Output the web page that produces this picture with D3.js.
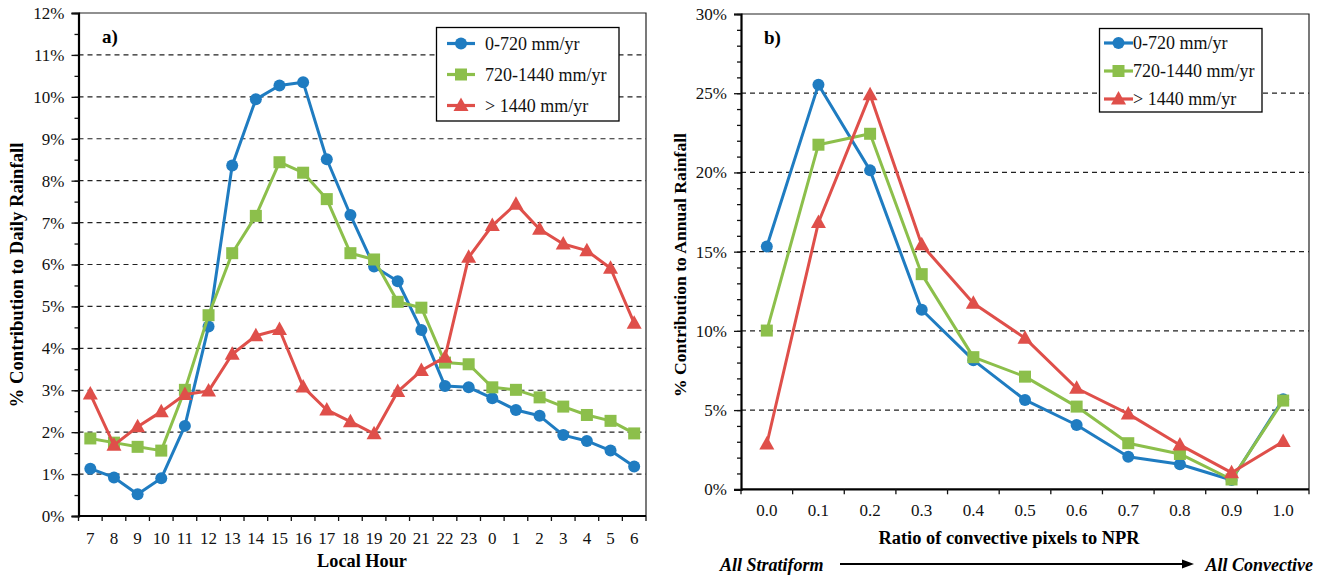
<!DOCTYPE html>
<html>
<head>
<meta charset="utf-8">
<script src="https://cdn.jsdelivr.net/npm/d3@7"></script>
<style>
  html, body { margin: 0; padding: 0; background: #fff; }
</style>
</head>
<body>
<svg id="chart" width="1323" height="576" font-family="'Liberation Serif', 'Times New Roman', Times, 'DejaVu Serif', serif"></svg>
<script>
// Panel a) diurnal cycle of rainfall contribution by annual rainfall class
const hours = ["7","8","9","10","11","12","13","14","15","16","17","18","19","20","21","22","23","0","1","2","3","4","5","6"];
const dailyLow  = [1.13,0.92,0.52,0.90,2.15,4.52,8.36,9.94,10.27,10.35,8.51,7.18,5.95,5.60,4.44,3.10,3.07,2.81,2.53,2.39,1.93,1.79,1.56,1.18];
const dailyMid  = [1.85,1.75,1.65,1.56,3.01,4.79,6.27,7.16,8.44,8.19,7.56,6.27,6.12,5.11,4.97,3.66,3.62,3.07,3.01,2.83,2.61,2.41,2.27,1.97];
const dailyHigh = [2.91,1.69,2.13,2.49,2.90,2.98,3.86,4.30,4.45,3.08,2.53,2.25,1.96,2.97,3.47,3.79,6.17,6.93,7.44,6.84,6.49,6.33,5.91,4.60];
const dailyTicks = [0,1,2,3,4,5,6,7,8,9,10,11,12];

// Panel b) contribution to annual rainfall by convective ratio
const ratios = ["0.0","0.1","0.2","0.3","0.4","0.5","0.6","0.7","0.8","0.9","1.0"];
const annualLow  = [15.32,25.54,20.13,11.33,8.15,5.64,4.06,2.06,1.58,0.59,5.69];
const annualMid  = [10.02,21.75,22.44,13.58,8.34,7.11,5.22,2.91,2.23,0.62,5.60];
const annualHigh = [2.86,16.84,24.91,15.43,11.75,9.54,6.38,4.76,2.80,1.05,3.01];
const annualTicks = [0,5,10,15,20,25,30];

const seriesNames = ["0-720 mm/yr","720-1440 mm/yr","> 1440 mm/yr"];
const colors = ["#1f7cc1","#8cbf4b","#df4f4a"];
const shapes = ["circle","square","triangle"];

const FONT = "'Liberation Serif', 'Times New Roman', Times, 'DejaVu Serif', serif";
const svg = d3.select("#chart");

function marker(g, shape, color, x, y) {
  if (shape === "circle") {
    g.append("circle").attr("cx", x).attr("cy", y).attr("r", 6).attr("fill", color);
  } else if (shape === "square") {
    g.append("rect").attr("x", x - 6).attr("y", y - 6).attr("width", 12).attr("height", 12).attr("fill", color);
  } else {
    g.append("path").attr("d", `M${x},${y - 8}L${x + 7.5},${y + 5.5}L${x - 7.5},${y + 5.5}Z`).attr("fill", color);
  }
}

function panel(cfg) {
  const { left, right, top, bottom, cats, series, yMax, majorTicks, minorStep } = cfg;
  const g = svg.append("g");
  const x = d3.scaleBand().domain(cats).range([left, right]).padding(0);
  const y = d3.scaleLinear().domain([0, yMax]).range([bottom, top]);

  // dashed gridlines
  g.append("g").selectAll("line").data(majorTicks.filter(t => t > 0 && t < yMax)).join("line")
    .attr("x1", left).attr("x2", right)
    .attr("y1", d => y(d)).attr("y2", d => y(d))
    .attr("stroke", "#222").attr("stroke-width", 1.2).attr("stroke-dasharray", "5,4");

  // frame top and right
  g.append("path").attr("d", `M${left},${top}H${right}V${bottom}`)
    .attr("fill", "none").attr("stroke", "#222").attr("stroke-width", 1.2);

  // minor ticks on y axis
  const minor = d3.range(0, yMax + 1e-9, minorStep);
  g.append("g").attr("transform", `translate(${left},0)`)
    .call(d3.axisLeft(y).tickValues(minor).tickSize(4).tickFormat(""))
    .call(a => a.select(".domain").remove())
    .call(a => a.selectAll("line").attr("stroke", "#111").attr("stroke-width", 1.3));

  // major y axis
  g.append("g").attr("transform", `translate(${left},0)`)
    .call(d3.axisLeft(y).tickValues(majorTicks).tickSize(7).tickPadding(7).tickFormat(d => d + "%"))
    .attr("font-family", FONT).attr("font-size", 17)
    .call(a => a.select(".domain").attr("stroke", "#000").attr("stroke-width", 2.2))
    .call(a => a.selectAll("line").attr("stroke", "#111").attr("stroke-width", 1.3))
    .call(a => a.selectAll("text").attr("fill", "#111"));

  // x axis: ticks on category boundaries
  const bounds = cats.map(c => x(c)).concat([right]);
  g.append("line").attr("x1", left).attr("x2", right).attr("y1", bottom).attr("y2", bottom)
    .attr("stroke", "#000").attr("stroke-width", 2.2);
  g.append("g").selectAll("line").data(bounds).join("line")
    .attr("x1", d => d).attr("x2", d => d).attr("y1", bottom).attr("y2", bottom + 5)
    .attr("stroke", "#111").attr("stroke-width", 1.3);
  g.append("g").selectAll("text").data(cats).join("text")
    .attr("x", d => x(d) + x.bandwidth() / 2).attr("y", bottom + cfg.labelDy)
    .attr("text-anchor", "middle").attr("font-size", 17).attr("fill", "#111").text(d => d);

  // series lines and markers
  series.forEach((vals, i) => {
    const line = d3.line().x((d, j) => x(cats[j]) + x.bandwidth() / 2).y(d => y(d));
    g.append("path").datum(vals).attr("d", line)
      .attr("fill", "none").attr("stroke", colors[i]).attr("stroke-width", 3).attr("stroke-linejoin", "round");
    const mg = g.append("g");
    vals.forEach((v, j) => marker(mg, shapes[i], colors[i], x(cats[j]) + x.bandwidth() / 2, y(v)));
  });

  return { g, x, y };
}

// panel a)
panel({
  left: 78.5, right: 646, top: 13, bottom: 516,
  cats: hours, series: [dailyLow, dailyMid, dailyHigh],
  yMax: 12, majorTicks: dailyTicks, minorStep: 0.5, labelDy: 28
});

// panel b)
panel({
  left: 741, right: 1309, top: 14, bottom: 489.3,
  cats: ratios, series: [annualLow, annualMid, annualHigh],
  yMax: 30, majorTicks: annualTicks, minorStep: 1, labelDy: 27
});

// panel letters
svg.append("text").attr("x", 102).attr("y", 43).attr("font-size", 19).attr("font-weight", "bold").text("a)");
svg.append("text").attr("x", 764).attr("y", 44).attr("font-size", 19).attr("font-weight", "bold").text("b)");

// axis titles
svg.append("text").attr("x", 362).attr("y", 567).attr("text-anchor", "middle")
  .attr("font-size", 18.3).attr("font-weight", "bold").text("Local Hour");
svg.append("text").attr("transform", "translate(23,275) rotate(-90)").attr("text-anchor", "middle")
  .attr("font-size", 18.7).attr("font-weight", "bold").text("% Contribution to Daily Rainfall");
svg.append("text").attr("x", 1009).attr("y", 544).attr("text-anchor", "middle")
  .attr("font-size", 18.4).attr("font-weight", "bold").text("Ratio of convective pixels to NPR");
svg.append("text").attr("transform", "translate(686,265) rotate(-90)").attr("text-anchor", "middle")
  .attr("font-size", 17.6).attr("font-weight", "bold").text("% Contribution to Annual Rainfall");

// stratiform → convective arrow
svg.append("text").attr("x", 720).attr("y", 571).attr("font-size", 18).attr("font-weight", "bold")
  .attr("font-style", "italic").text("All Stratiform");
svg.append("text").attr("x", 1313).attr("y", 571).attr("text-anchor", "end").attr("font-size", 18)
  .attr("font-weight", "bold").attr("font-style", "italic").text("All Convective");
svg.append("line").attr("x1", 840).attr("x2", 1184).attr("y1", 564).attr("y2", 564)
  .attr("stroke", "#000").attr("stroke-width", 2.2);
svg.append("path").attr("d", "M1194,564L1182,559.5L1182,568.5Z").attr("fill", "#000");

// legends
function legend(cfg) {
  const g = svg.append("g");
  g.append("rect").attr("x", cfg.x).attr("y", cfg.y).attr("width", cfg.w).attr("height", cfg.h)
    .attr("fill", "#fff").attr("stroke", "#000").attr("stroke-width", 1.3);
  seriesNames.forEach((name, i) => {
    const cy = cfg.y + cfg.first + i * cfg.step;
    g.append("line").attr("x1", cfg.lx1).attr("x2", cfg.lx2).attr("y1", cy).attr("y2", cy)
      .attr("stroke", colors[i]).attr("stroke-width", 3.2);
    marker(g, shapes[i], colors[i], (cfg.lx1 + cfg.lx2) / 2, cy);
    g.append("text").attr("x", cfg.tx).attr("y", cy + 6).attr("font-size", cfg.fs).attr("fill", "#111").text(name);
  });
}
legend({ x: 436.5, y: 27.5, w: 182.5, h: 93.5, first: 16, step: 31, lx1: 447, lx2: 475, tx: 485, fs: 18 });
legend({ x: 1099.5, y: 28.5, w: 162.5, h: 83.5, first: 14.5, step: 28, lx1: 1104, lx2: 1133, tx: 1133, fs: 18 });
</script>
</body>
</html>
